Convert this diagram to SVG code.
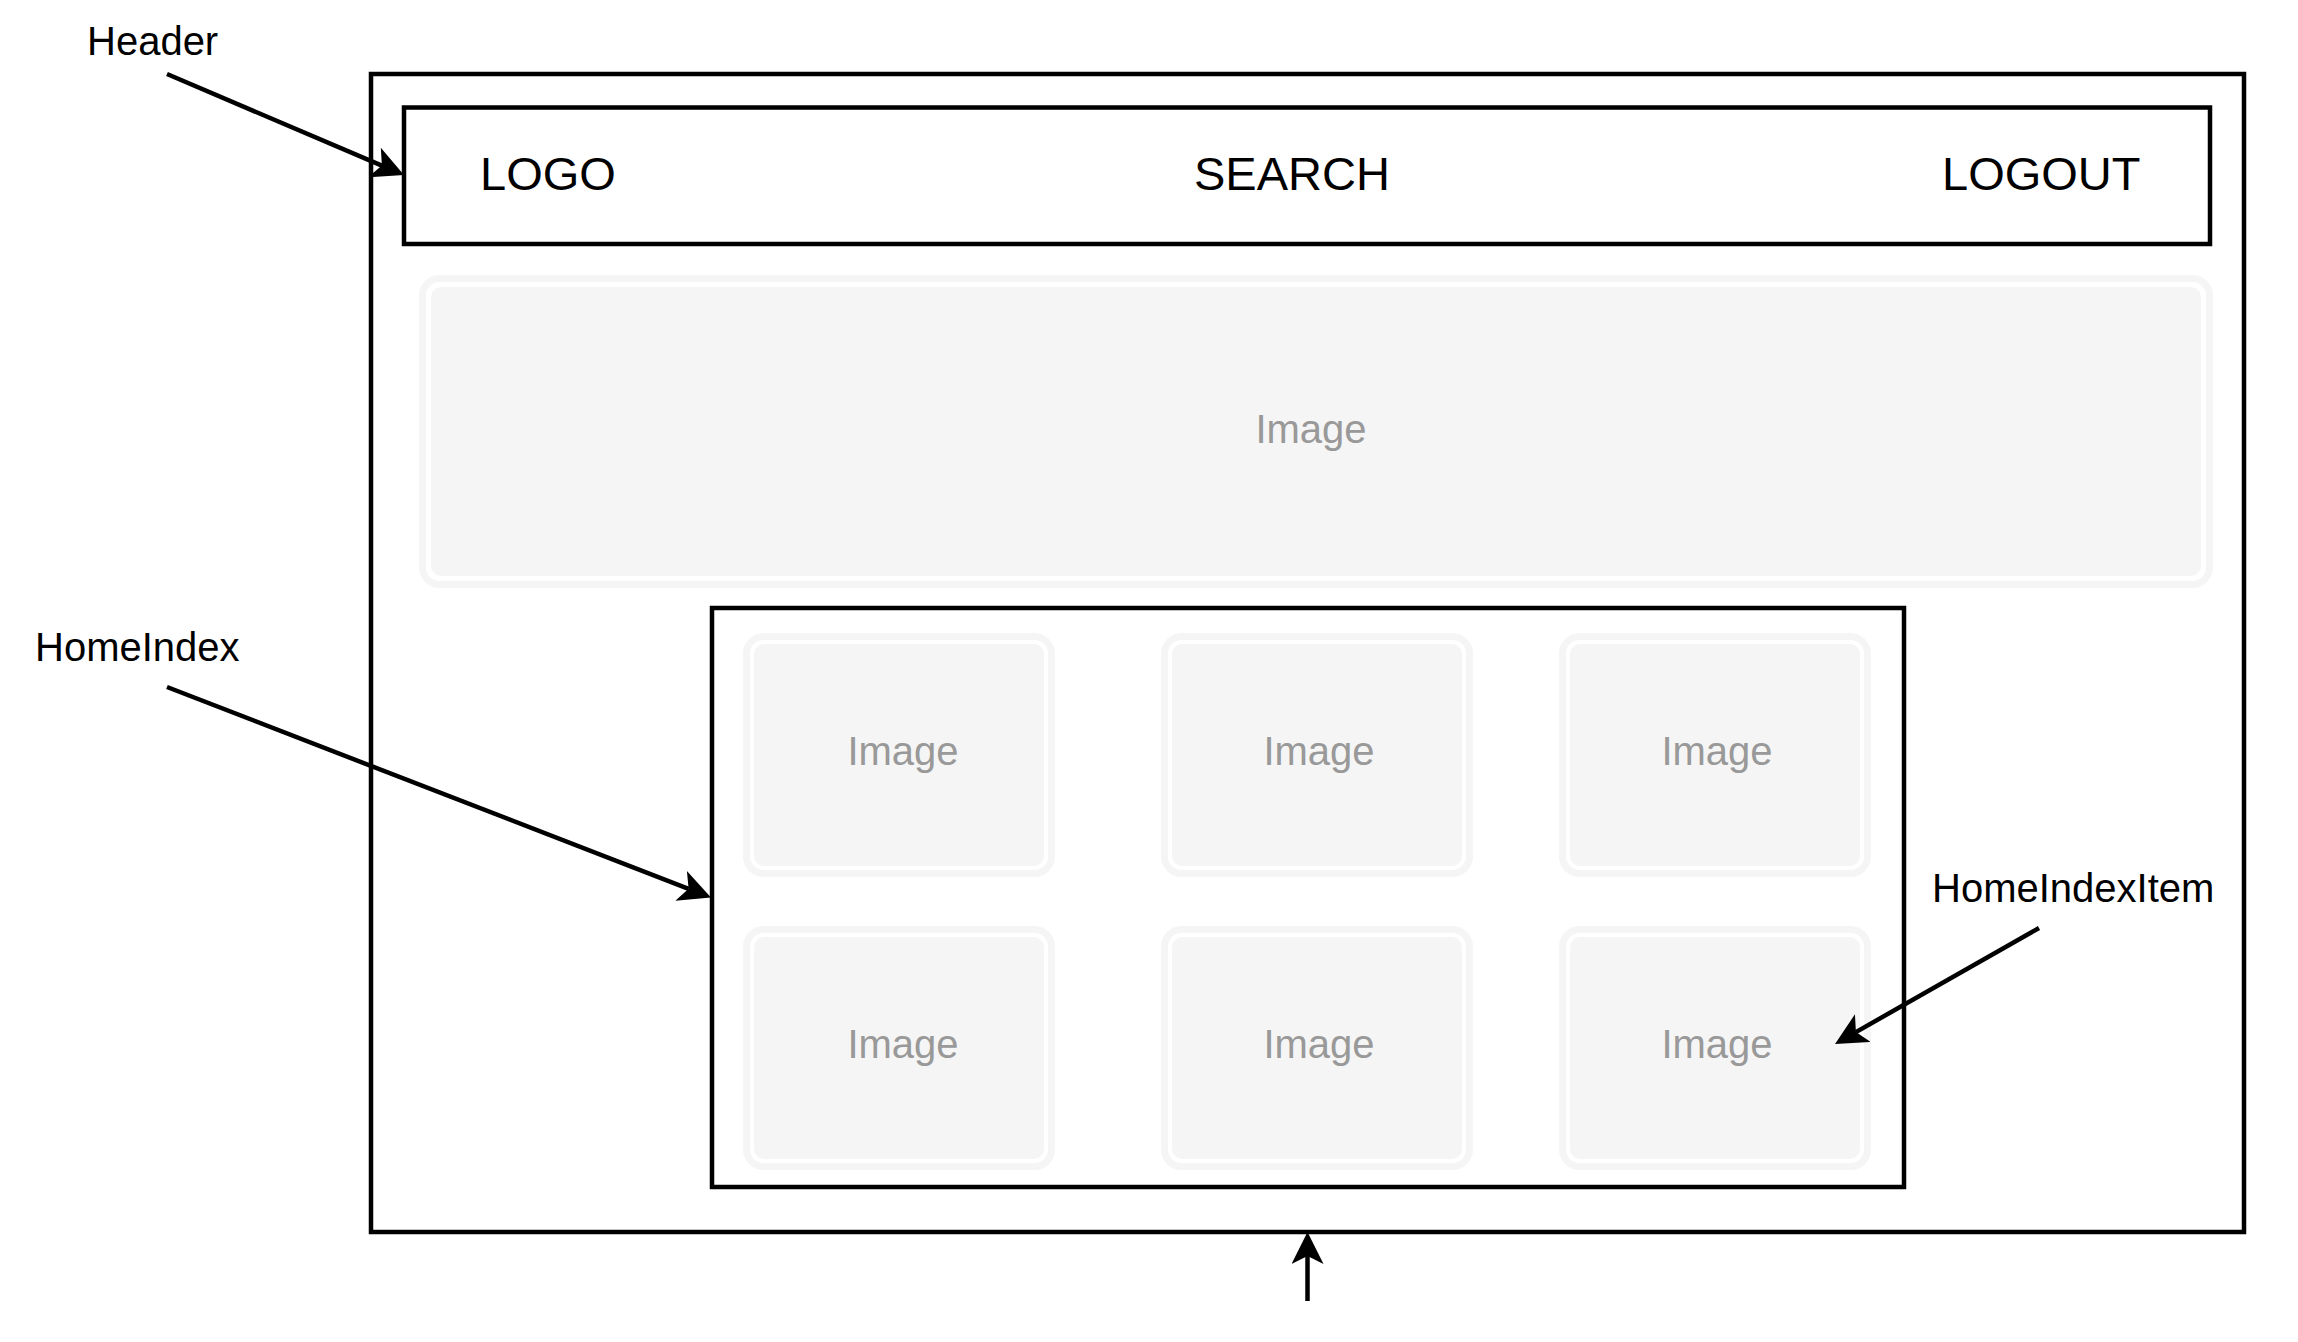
<svg xmlns="http://www.w3.org/2000/svg" width="2298" height="1342" viewBox="0 0 2298 1342">
<style>
  .box { fill: #ffffff; stroke: #000000; stroke-width: 4.5; }
  .lbl { font-family: "Liberation Sans", Arial, Helvetica, sans-serif; font-size: 40px; fill: #000000; }
  .hdr { font-family: "Liberation Sans", Arial, Helvetica, sans-serif; font-size: 47px; fill: #000000; }
  .img-outer { fill: #ffffff; stroke: #f5f5f5; stroke-width: 7; }
  .img-inner { fill: #f5f5f5; stroke: none; }
  .img-text { font-family: "Liberation Sans", Arial, Helvetica, sans-serif; font-size: 40px; fill: #999999; text-anchor: middle; }
  .conn { fill: none; stroke: #000000; stroke-width: 4.5; marker-end: url(#arrow); }
</style>
<defs>
  <marker id="arrow" markerUnits="userSpaceOnUse" viewBox="0 0 32 32" markerWidth="32" markerHeight="32" refX="8" refY="16" orient="auto">
    <path d="M32,16 L0,0 L8,16 L0,32 Z" fill="#000000"/>
  </marker>
</defs>
<rect width="2298" height="1342" fill="#ffffff"/>

<g id="page">
  <rect class="box" x="371" y="74" width="1873" height="1158"/>
</g>

<g id="header">
  <rect class="box" x="404" y="107.5" width="1806" height="136.5"/>
  <text class="hdr" x="480" y="190">LOGO</text>
  <text class="hdr" x="1194" y="190">SEARCH</text>
  <text class="hdr" x="1942" y="190">LOGOUT</text>
</g>

<g id="banner-image">
  <rect class="img-outer" x="422.5" y="278.5" width="1787" height="306" rx="17"/>
  <rect class="img-inner" x="431" y="287" width="1770" height="289" rx="10"/>
  <text class="img-text" x="1311" y="443">Image</text>
</g>

<g id="home-index">
  <rect class="box" x="712" y="608" width="1192" height="579"/>
</g>

<g id="item-1">
  <rect class="img-outer" x="746.5" y="636.5" width="305" height="237" rx="17"/>
  <rect class="img-inner" x="754" y="644" width="290" height="222" rx="10"/>
  <text class="img-text" x="903" y="765">Image</text>
</g>
<g id="item-2">
  <rect class="img-outer" x="1164.5" y="636.5" width="305" height="237" rx="17"/>
  <rect class="img-inner" x="1172" y="644" width="290" height="222" rx="10"/>
  <text class="img-text" x="1319" y="765">Image</text>
</g>
<g id="item-3">
  <rect class="img-outer" x="1562.5" y="636.5" width="305" height="237" rx="17"/>
  <rect class="img-inner" x="1570" y="644" width="290" height="222" rx="10"/>
  <text class="img-text" x="1717" y="765">Image</text>
</g>
<g id="item-4">
  <rect class="img-outer" x="746.5" y="929.5" width="305" height="237" rx="17"/>
  <rect class="img-inner" x="754" y="937" width="290" height="222" rx="10"/>
  <text class="img-text" x="903" y="1058">Image</text>
</g>
<g id="item-5">
  <rect class="img-outer" x="1164.5" y="929.5" width="305" height="237" rx="17"/>
  <rect class="img-inner" x="1172" y="937" width="290" height="222" rx="10"/>
  <text class="img-text" x="1319" y="1058">Image</text>
</g>
<g id="item-6">
  <rect class="img-outer" x="1562.5" y="929.5" width="305" height="237" rx="17"/>
  <rect class="img-inner" x="1570" y="937" width="290" height="222" rx="10"/>
  <text class="img-text" x="1717" y="1058">Image</text>
</g>

<g id="label-header"><text class="lbl" x="87" y="55">Header</text></g>
<g id="label-homeindex"><text class="lbl" x="35" y="661">HomeIndex</text></g>
<g id="label-homeindexitem"><text class="lbl" x="1932" y="902">HomeIndexItem</text></g>

<g id="connectors">
  <path class="conn" d="M167,74 L381.9,165.6"/>
  <path class="conn" d="M167,687 L688.6,888.8"/>
  <path class="conn" d="M2039,928 L1855.9,1032.1"/>
  <path class="conn" d="M1307.5,1301 L1307.5,1256"/>
</g>
</svg>
